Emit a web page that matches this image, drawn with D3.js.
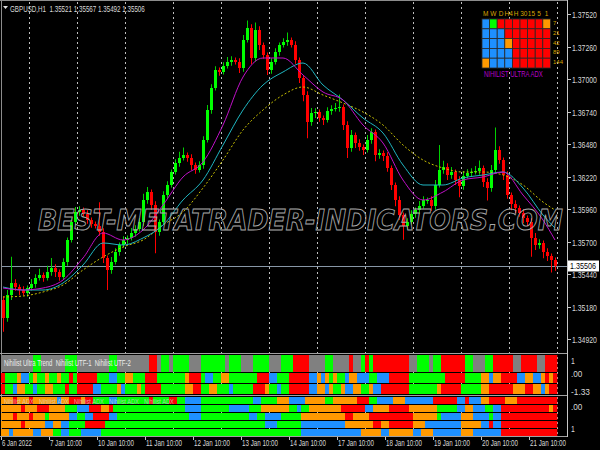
<!DOCTYPE html>
<html><head><meta charset="utf-8">
<script src="https://cdn.jsdelivr.net/npm/d3@7"></script>
<style>html,body{margin:0;padding:0;background:#000;}svg{display:block;}</style>
</head><body><svg id="c" width="600" height="450"></svg>
<script>
// ---------------- DATA ----------------
const symbolTitle = "GBPUSD,H1  1.35521 1.35567 1.35492 1.35506";
const firstOpen = 1.35233;
// 2-hour closes, 6 Jan 10:00 -> 21 Jan
const closes = [
1.35089,1.35273,1.35369,1.35337,1.35313,1.35289,1.35329,1.35361,1.35409,1.35433,
1.35409,1.35457,1.35489,1.35457,1.35417,1.35537,1.35713,1.35857,1.35937,1.35953,
1.35921,1.35873,1.35841,1.35825,1.35777,1.35569,1.35473,1.35537,1.35617,1.35673,
1.35713,1.35729,1.35769,1.35801,1.35857,1.36033,1.36097,1.35993,1.35777,1.35857,
1.36073,1.36153,1.36257,1.36329,1.36369,1.36393,1.36369,1.36313,1.36273,1.36313,
1.36513,1.36753,1.36929,1.37073,1.37057,1.37105,1.37137,1.37153,1.37137,1.37089,
1.37313,1.37409,1.37169,1.37393,1.37273,1.37193,1.37073,1.37137,1.37217,1.37273,
1.37297,1.37313,1.37273,1.37153,1.37009,1.36873,1.36657,1.36729,1.36737,1.36689,
1.36673,1.36745,1.36761,1.36769,1.36777,1.36633,1.36449,1.36553,1.36489,1.36457,
1.36433,1.36513,1.36577,1.36393,1.36409,1.36385,1.36289,1.36153,1.36033,1.35913,
1.35825,1.35857,1.35921,1.35953,1.35985,1.36033,1.36033,1.35985,1.36153,1.36273,
1.36297,1.36233,1.36257,1.36193,1.36145,1.36225,1.36249,1.36257,1.36265,1.36289,
1.36177,1.36129,1.36273,1.36433,1.36353,1.36233,1.36073,1.36001,1.35969,1.35929,
1.35889,1.35857,1.35729,1.35673,1.35689,1.35617,1.35585,1.35553,1.35506];
const upperWickPips = [
3,4,21,3,2,3,2,4,3,5, 2,5,8,3,2,3,2,3,4,3, 2,3,2,2,19,3,2,4,3,2, 3,2,4,3,3,5,4,2,3,2,
3,3,2,3,5,6,2,3,2,3, 3,4,3,3,2,3,4,3,2,3, 4,6,3,6,3,2,2,3,3,2, 3,6,2,3,2,2,3,4,3,2,
2,3,3,4,10,2,3,4,2,3, 2,4,3,2,3,2,3,2,2,3, 2,3,3,2,4,3,2,3,4,20, 5,3,4,2,3,4,3,3,4,6,
2,3,4,18,3,2,3,2,3,2, 3,2,3,4,3,2,3,2,2];
const lowerWickPips = [
11,3,4,3,4,2,3,2,3,2, 3,2,3,4,3,2,3,2,2,3, 2,3,3,2,3,4,16,3,2,3, 2,3,2,3,2,3,3,4,17,3,
2,3,2,2,3,2,3,4,3,2, 3,2,3,2,3,2,2,3,2,4, 3,2,5,3,4,3,4,3,2,3, 2,3,2,3,4,5,13,3,4,3,
4,2,3,2,3,4,8,3,4,3, 4,2,3,5,3,4,3,4,5,4, 11,3,2,3,3,2,3,4,3,2, 3,4,3,4,9,3,2,3,2,3,
4,10,3,2,3,4,3,5,4,3, 4,3,15,4,3,5,4,10,4];
// moving averages sampled at these bar indices
const maIndex = [0,5,10,15,20,25,30,35,40,45,50,55,60,65,70,75,80,85,90,95,100,105,110,115,120,125,130,135,138];
const maMagenta = [1.35329,1.35313,1.35329,1.35393,1.35569,1.35769,1.35713,1.35793,1.35993,1.36217,1.36337,1.36633,1.37017,1.37169,1.37169,1.37033,1.36897,1.36833,1.36633,1.36489,1.36193,1.36033,1.36097,1.36193,1.36217,1.36257,1.36073,1.35873,1.35713];
const maCyan = [1.35337,1.35313,1.35313,1.35369,1.35513,1.35689,1.35673,1.35729,1.35833,1.36033,1.36193,1.36473,1.36753,1.36953,1.37057,1.37129,1.36953,1.36833,1.36689,1.36569,1.36313,1.36153,1.36153,1.36209,1.36233,1.36257,1.36129,1.35913,1.35809];
const maYellow = [1.35257,1.35265,1.35297,1.35353,1.35473,1.35577,1.35657,1.35713,1.35833,1.35937,1.36129,1.36353,1.36593,1.36753,1.36873,1.36937,1.36873,1.36809,1.36737,1.36633,1.36473,1.36353,1.36289,1.36257,1.36257,1.36233,1.36153,1.36017,1.35953];
const priceTicks = ["1.37520","1.37260","1.37000","1.36740","1.36480","1.36220","1.35960","1.35700","1.35440","1.35180","1.34920"];
const lastPrice = 1.35506;
const timeLabels = ["6 Jan 2022","7 Jan 10:00","10 Jan 10:00","11 Jan 10:00","12 Jan 10:00","13 Jan 10:00","14 Jan 10:00","17 Jan 10:00","18 Jan 10:00","19 Jan 10:00","20 Jan 10:00","21 Jan 10:00"];
const timeLabelHours = [0,24,48,72,96,120,144,168,192,216,240,264];
const gridHours = [14,38,62,86,110,134,158,182,206,230,254,278];
// Nihilist Ultra Trend strips (runs of [colour, bars])
const utTrend = [["Y",8],["G",2],["Y",6],["G",3],["Y",8],["G",2],["Y",8],["R",2],["Y",1],["G",2],["Y",1],["G",4],["Y",3],["G",6],["Y",1],["G",3],["Y",3],["G",4],["Y",3],["G",3],["R",4],["Y",4],["G",2],["Y",1],["Y",3],["R",1],["Y",2],["G",1],["R",1],["G",1],["R",4],["R",5],["Y",2],["G",3],["Y",1],["G",2],["R",6],["G",2],["Y",3],["G",2],["R",5],["Y",2],["R",4],["Y",2],["R",3]];
const utf1 = [["R",1],["G",3],["O",1],["B",2],["G",1],["O",1],["G",2],["O",1],["G",2],["O",1],["G",2],["R",1],["G",1],["R",5],["G",3],["B",2],["G",2],["O",2],["G",3],["R",3],["G",7],["O",1],["R",3],["G",1],["B",2],["G",2],["O",2],["G",3],["G",4],["R",3],["B",2],["G",3],["R",5],["B",2],["O",1],["B",1],["O",1],["G",1],["O",1],["G",2],["B",1],["O",2],["B",3],["G",2],["B",3],["R",5],["G",9],["R",5],["G",4],["O",2],["B",1],["O",2],["R",4],["B",2],["O",2],["B",2],["O",1],["R",1],["O",1],["R",1]];
const utf2 = [["R",1],["G",2],["B",1],["O",2],["G",2],["B",1],["G",2],["O",2],["G",3],["R",1],["G",2],["R",4],["B",2],["G",4],["O",1],["B",1],["G",3],["O",1],["G",1],["R",4],["G",6],["O",2],["R",2],["G",2],["O",2],["G",3],["B",1],["G",5],["R",3],["O",1],["G",2],["B",1],["G",2],["R",5],["B",2],["O",2],["B",1],["O",1],["G",2],["O",1],["B",2],["O",2],["G",2],["O",1],["B",2],["R",7],["G",7],["O",1],["R",5],["G",5],["O",2],["R",6],["O",3],["R",2],["O",2],["B",1],["O",1],["R",2]];
// Nihilist ADX strips
const adx1 = [["O",3],["R",1],["O",3],["R",1],["O",4],["O",2],["B",1],["O",2],["R",3],["O",1],["R",2],["G",4],["B",2],["G",3],["G",5],["R",1],["G",4],["R",2],["G",2],["B",4],["G",13],["B",2],["G",4],["O",3],["B",3],["B",1],["O",2],["O",3],["G",2],["O",4],["O",2],["R",3],["G",2],["B",1],["B",3],["O",3],["B",3],["B",4],["R",6],["B",2],["R",1],["B",3],["O",2],["R",4],["O",3],["R",3],["R",7]];
const adx2 = [["O",5],["R",1],["O",3],["R",3],["O",4],["G",3],["B",3],["R",3],["O",2],["R",1],["G",4],["G",14],["B",4],["G",7],["B",5],["G",3],["O",7],["G",2],["B",1],["G",2],["O",8],["R",1],["R",5],["B",2],["O",2],["O",2],["R",5],["O",7],["G",5],["B",2],["O",2],["B",3],["G",2],["B",2],["R",12],["O",1],["R",1]];
const adx3 = [["O",3],["R",1],["O",3],["R",1],["O",3],["G",1],["O",5],["B",2],["G",2],["B",2],["R",4],["B",2],["G",4],["G",14],["B",3],["G",12],["B",2],["G",2],["B",4],["G",5],["O",11],["R",2],["O",4],["R",4],["R",7],["O",6],["G",1],["B",1],["B",4],["O",3],["B",4],["G",1],["B",2],["R",14]];
const adx4 = [["O",5],["R",1],["O",5],["B",2],["O",2],["B",2],["G",4],["R",5],["G",6],["G",34],["B",3],["G",6],["B",11],["O",7],["R",2],["O",2],["R",6],["O",3],["B",6],["B",3],["O",3],["O",2],["B",2],["R",1],["B",2],["R",14]];
const adx5 = [["O",2],["B",1],["O",5],["B",2],["O",3],["G",2],["B",2],["G",3],["B",5],["G",7],["G",43],["B",15],["O",5],["B",2],["O",6],["B",2],["O",3],["B",4],["B",3],["O",3],["B",7],["R",14]];
// Nihilist Ultra ADX dashboard
const dashTF = ["M","W","D","H4","H","30","15","5","1"];
const dashPeriods = ["7","21","42","89","144"];
const dashGrid = ["BGRRRRRRO","BBBRRRRRR","BBBORRRRR","BBBBRRRRR","OBBBRRRRR"];
const panel1Labels = ["1",".00","-1.33"];
const panel2Labels = [".00","1"];

// ---------------- DRAW ----------------
const COL = {G:"#00ff00",R:"#ff0000",B:"#1e90ff",O:"#ff9900",Y:"#808080"};
const svg = d3.select("#c");
svg.append("rect").attr("width",600).attr("height",450).attr("fill","#000");
const x = d3.scaleLinear().domain([0,278]).range([1,557]);
const y = d3.scaleLinear().domain([1.3492,1.3752]).range([339.125,14.125]);
const PIP = 0.0001;
const FONT = "'Liberation Sans', Arial, sans-serif";
const txtCol = "#d8d8d8";

// text fitted to a width and cap height (condensed look of the terminal font)
function fitText(g, str, x0, yBase, width, cap, fill, opts={}){
  const t = g.append("text").attr("x",0).attr("y",0).text(str)
    .attr("font-family",opts.family||FONT).attr("font-size",10).attr("xml:space","preserve")
    .style("white-space","pre");
  if(opts.weight) t.attr("font-weight",opts.weight);
  if(opts.italic) t.attr("font-style","italic");
  const len = t.node().getComputedTextLength() || (str.length*5);
  const fs = 10*width/len;
  const sy = cap/(0.72*fs);
  t.attr("font-size",fs).attr("transform",`translate(${x0},${yBase}) scale(1,${sy})`);
  if(opts.stroke){ t.attr("fill","none").attr("stroke",fill).attr("stroke-width",opts.stroke/ Math.sqrt(sy)); }
  else t.attr("fill",fill);
  if(opts.opacity) t.attr("opacity",opts.opacity);
  return t;
}

// grid
svg.append("g").selectAll("line").data(gridHours).join("line")
  .attr("x1",d=>x(d)+0.5).attr("x2",d=>x(d)+0.5).attr("y1",2).attr("y2",436)
  .attr("stroke","#bdbdbd").attr("stroke-width",1).attr("stroke-dasharray","2,3");

// frames
const frame = svg.append("g").attr("fill","none").attr("stroke","#8c8c8c");
frame.append("line").attr("x1",0).attr("x2",567).attr("y1",0.5).attr("y2",0.5);
frame.append("line").attr("x1",1.5).attr("x2",1.5).attr("y1",0).attr("y2",436);
frame.append("line").attr("x1",0).attr("x2",567).attr("y1",353.5).attr("y2",353.5).attr("stroke","#a0a0a0");
frame.append("line").attr("x1",0).attr("x2",567).attr("y1",395.5).attr("y2",395.5).attr("stroke","#a0a0a0");
frame.append("line").attr("x1",0).attr("x2",567).attr("y1",436.5).attr("y2",436.5).attr("stroke","#a0a0a0");
frame.append("line").attr("x1",567.5).attr("x2",567.5).attr("y1",0).attr("y2",437).attr("stroke","#c8c8c8");

// last price line
svg.append("line").attr("x1",2).attr("x2",567).attr("y1",Math.round(y(lastPrice))+0.5).attr("y2",Math.round(y(lastPrice))+0.5)
  .attr("stroke","#8796a6").attr("stroke-width",1);

// candles
const bars = closes.map((c,i)=>{
  const o = i===0 ? firstOpen : closes[i-1];
  return {i,o,c,h:Math.max(o,c)+upperWickPips[i]*PIP,l:Math.min(o,c)-lowerWickPips[i]*PIP};
});
const cg = svg.append("g");
cg.selectAll("line").data(bars).join("line")
  .attr("x1",d=>Math.round(x(2*d.i+1))+0.5).attr("x2",d=>Math.round(x(2*d.i+1))+0.5)
  .attr("y1",d=>y(d.h)).attr("y2",d=>y(d.l))
  .attr("stroke",d=>d.c>=d.o?"#00d000":"#ff0000").attr("stroke-width",1);
cg.selectAll("rect").data(bars).join("rect")
  .attr("x",d=>Math.round(x(2*d.i+1))-1).attr("width",3)
  .attr("y",d=>y(Math.max(d.o,d.c))).attr("height",d=>Math.max(1,Math.abs(y(d.o)-y(d.c))))
  .attr("fill",d=>d.c>=d.o?"#00ff00":"#ff0000");

// moving averages
const maLine = d3.line().x((d,k)=>x(2*maIndex[k]+1)).y(d=>y(d)).curve(d3.curveMonotoneX);
svg.append("path").attr("d",maLine(maYellow)).attr("fill","none").attr("stroke","#c8c000").attr("stroke-width",1).attr("stroke-dasharray","2,2");
svg.append("path").attr("d",maLine(maCyan)).attr("fill","none").attr("stroke","#1fb5c0").attr("stroke-width",1);
svg.append("path").attr("d",maLine(maMagenta)).attr("fill","none").attr("stroke","#c010c8").attr("stroke-width",1);

// watermark
fitText(svg.append("g"), "BEST-METATRADER-INDICATORS.COM", 38, 230, 525, 21, "#a8a8a8",
  {family:"'DejaVu Sans', sans-serif", weight:"bold", italic:true, stroke:0.9});

// title
svg.append("path").attr("d","M3,6 L8,6 L5.5,9 Z").attr("fill","#e0e0e0");
fitText(svg.append("g"), symbolTitle, 10, 12, 135, 6.5, txtCol);

// price axis
const pa = svg.append("g");
priceTicks.forEach(t=>{
  const yy = Math.round(y(+t))+0.5;
  pa.append("line").attr("x1",567).attr("x2",571).attr("y1",yy).attr("y2",yy).attr("stroke","#c8c8c8");
  fitText(pa, t, 572, yy+3.5, 25, 6.8, txtCol);
});
const ly = Math.round(y(lastPrice));
pa.append("rect").attr("x",568).attr("y",ly-5.5).attr("width",31).attr("height",11).attr("fill","#fff");
fitText(pa, lastPrice.toFixed(5), 570, ly+2.8, 26, 6.2, "#000");

// strips
function expand(runs){ const out=[]; runs.forEach(([c,n])=>{for(let k=0;k<n;k++) out.push(c);}); return out; }
function strip(runs,y0,y1){
  const g = svg.append("g");
  g.selectAll("rect").data(expand(runs)).join("rect")
    .attr("x",(d,i)=>x(2*i)).attr("width",(d,i)=>x(2*i+2)-x(2*i)+0.3)
    .attr("y",y0).attr("height",y1-y0).attr("fill",d=>COL[d]);
}
strip(utTrend,355,372); strip(utf1,373,383); strip(utf2,384,394);
strip(adx1,397,404); strip(adx2,405,412); strip(adx3,413,420); strip(adx4,421,428); strip(adx5,429,436);

fitText(svg.append("g"), "Nihilist Ultra Trend  Nihilist UTF-1  Nihilist UTF-2", 4, 366, 127, 6, "#ececec");
[0,1,2,3,4].forEach(k=>{
  fitText(svg.append("g"), "Nihilist ADX", 4+k*35, 403.5, 30, 5, "#d0d0d0", {opacity:0.75});
});
// panel scales
const p1y=[360,373,391], p2y=[406,428];
panel1Labels.forEach((t,k)=>fitText(svg.append("g"), t, 571, p1y[k]+3.5, t.length*3.8, 7, txtCol));
panel2Labels.forEach((t,k)=>fitText(svg.append("g"), t, 571, p2y[k]+3.5, t.length*3.8, 7, txtCol));

// time axis
const ta = svg.append("g");
timeLabels.forEach((t,k)=>{
  const xx = x(timeLabelHours[k]);
  ta.append("line").attr("x1",Math.round(xx)+0.5).attr("x2",Math.round(xx)+0.5).attr("y1",437).attr("y2",440).attr("stroke","#c8c8c8");
  fitText(ta, t, xx+1, 445.5, k===0?30:(t.length>11?36:32), 6.5, txtCol);
});

// dashboard
const dg = svg.append("g");
const cx0=482, cw=7.6, cy0=19, ch=9.8;
dashGrid.forEach((row,r)=>{
  row.split("").forEach((c,k)=>{
    dg.append("rect").attr("x",cx0+k*cw).attr("y",cy0+r*ch).attr("width",cw).attr("height",ch)
      .attr("fill",COL[c]).attr("stroke","#2a2a2a").attr("stroke-width",0.8);
  });
  dg.append("text").attr("x",553).attr("y",cy0+r*ch+6).text(dashPeriods[r]).attr("font-family",FONT).attr("font-size",6)
    .attr("fill","#d9a400");
});
dashTF.forEach((t,k)=>{
  dg.append("text").attr("x",cx0+k*cw+cw/2).attr("y",15.5).text(t).attr("text-anchor","middle").attr("font-family",FONT)
    .attr("font-size",6.5).attr("fill","#d9a400");
});
fitText(dg, "NIHILIST ULTRA ADX", 484, 76.5, 59, 6.5, "#b400c8");
</script></body></html>
